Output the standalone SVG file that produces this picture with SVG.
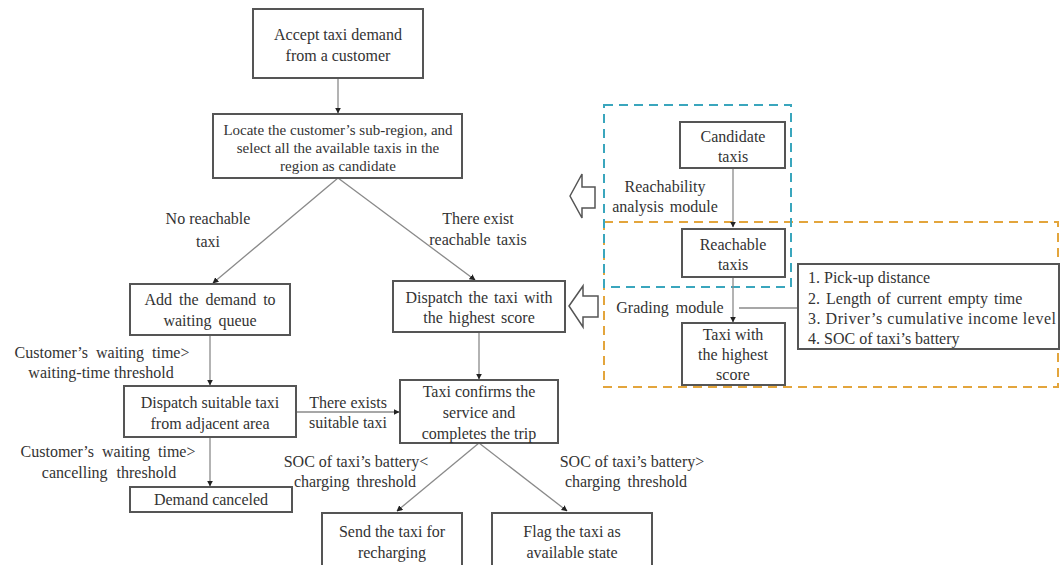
<svg xmlns="http://www.w3.org/2000/svg" width="1061" height="565" viewBox="0 0 1061 565">
<defs>
<style>
.box{fill:#fff;stroke:#555;stroke-width:2}
.t{font-family:'Liberation Serif','DejaVu Serif',serif;font-size:16px;fill:#333;text-anchor:middle}
.ts{font-size:15px}
.l{text-anchor:start}
.c{fill:none;stroke:#8a8a8a;stroke-width:1.3}
.blk{fill:#fff;stroke:#555;stroke-width:1.5}
</style>
<marker id="ah" viewBox="0 0 10 10" refX="9" refY="5" markerWidth="6" markerHeight="6" markerUnits="userSpaceOnUse" orient="auto">
<path d="M0,0 L10,5 L0,10 Z" fill="#222"/>
</marker>
</defs>
<rect width="1061" height="565" fill="#fff"/>

<g id="modules">
<rect x="604" y="222" width="454" height="165" fill="none" stroke="#e3a53c" stroke-width="2" stroke-dasharray="9,6"/>
<rect x="604" y="105" width="187" height="182" fill="none" stroke="#3aa6bd" stroke-width="2" stroke-dasharray="9,6"/>
</g>

<g id="connectors">
<line class="c" x1="338" y1="78" x2="338" y2="113" marker-end="url(#ah)"/>
<line class="c" x1="338" y1="178" x2="213" y2="283" marker-end="url(#ah)"/>
<line class="c" x1="338" y1="178" x2="475" y2="280" marker-end="url(#ah)"/>
<line class="c" x1="210" y1="335" x2="210" y2="385" marker-end="url(#ah)"/>
<line class="c" x1="210" y1="437" x2="210" y2="486" marker-end="url(#ah)"/>
<line class="c" x1="296" y1="412" x2="399" y2="412" marker-end="url(#ah)"/>
<line class="c" x1="479" y1="332" x2="479" y2="379" marker-end="url(#ah)"/>
<line class="c" x1="479" y1="443" x2="397" y2="511" marker-end="url(#ah)"/>
<line class="c" x1="479" y1="443" x2="567" y2="511" marker-end="url(#ah)"/>
<line class="c" x1="733" y1="168" x2="733" y2="227" marker-end="url(#ah)"/>
<line class="c" x1="733" y1="277" x2="733" y2="322" marker-end="url(#ah)"/>
<line class="c" x1="739" y1="308" x2="798" y2="308"/>
<path class="blk" d="M570,196 L582,174 L582,187 L595,187 L595,208 L582,208 L582,218 Z"/>
<path class="blk" d="M569,306 L583,286 L583,296 L598,296 L598,317 L583,317 L583,327 Z"/>
</g>

<g id="n-accept">
<rect class="box" x="253" y="9" width="170" height="69"/>
<text class="t" x="338" y="40">Accept taxi demand</text>
<text class="t" x="338" y="61">from a customer</text>
</g>

<g id="n-locate">
<rect class="box" x="213" y="114" width="249" height="64"/>
<text class="t ts" x="338" y="135">Locate the customer’s sub-region, and</text>
<text class="t ts" x="338" y="153">select all the available taxis in the</text>
<text class="t ts" x="338" y="171">region as candidate</text>
</g>

<g id="n-queue">
<rect class="box" x="130" y="284" width="160" height="51"/>
<text class="t" x="210" y="305" word-spacing="3">Add the demand to</text>
<text class="t" x="210" y="326" word-spacing="3">waiting queue</text>
</g>

<g id="n-dispatch-high">
<rect class="box" x="393" y="281" width="172" height="51"/>
<text class="t" x="479" y="303" word-spacing="2">Dispatch the taxi with</text>
<text class="t" x="479" y="323" word-spacing="2">the highest score</text>
</g>

<g id="n-dispatch-adj">
<rect class="box" x="124" y="386" width="172" height="51"/>
<text class="t" x="210" y="408">Dispatch suitable taxi</text>
<text class="t" x="210" y="429">from adjacent area</text>
</g>

<g id="n-canceled">
<rect class="box" x="130" y="487" width="162" height="25"/>
<text class="t" x="211" y="505">Demand canceled</text>
</g>

<g id="n-confirm">
<rect class="box" x="400" y="380" width="158" height="63"/>
<text class="t" x="479" y="397">Taxi confirms the</text>
<text class="t" x="479" y="418">service and</text>
<text class="t" x="479" y="439">completes the trip</text>
</g>

<g id="n-recharge">
<rect class="box" x="322" y="513" width="140" height="60"/>
<text class="t" x="392" y="537">Send the taxi for</text>
<text class="t" x="392" y="558">recharging</text>
</g>

<g id="n-available">
<rect class="box" x="492" y="513" width="160" height="60"/>
<text class="t" x="572" y="537">Flag the taxi as</text>
<text class="t" x="572" y="558">available state</text>
</g>

<g id="n-candidate">
<rect class="box" x="680" y="122" width="105" height="46"/>
<text class="t" x="733" y="142">Candidate</text>
<text class="t" x="733" y="162">taxis</text>
</g>

<g id="n-reachable">
<rect class="box" x="682" y="229" width="103" height="48"/>
<text class="t" x="733" y="250">Reachable</text>
<text class="t" x="733" y="270">taxis</text>
</g>

<g id="n-highest">
<rect class="box" x="682" y="323" width="103" height="62"/>
<text class="t" x="733" y="340">Taxi with</text>
<text class="t" x="733" y="360">the highest</text>
<text class="t" x="733" y="380">score</text>
</g>

<g id="n-criteria">
<rect class="box" x="798" y="264" width="261" height="85"/>
<text class="t l" x="808" y="283">1. Pick-up distance</text>
<text class="t l" x="808" y="304" word-spacing="2">2. Length of current empty time</text>
<text class="t l" x="808" y="324" textLength="248" lengthAdjust="spacing">3. Driver’s  cumulative income level</text>
<text class="t l" x="808" y="344">4. SOC of taxi’s battery</text>
</g>

<g id="labels">
<text class="t" x="208" y="224">No reachable</text>
<text class="t" x="208" y="247">taxi</text>
<text class="t" x="478" y="224">There exist</text>
<text class="t" x="478" y="245" word-spacing="2">reachable taxis</text>
<text class="t" x="102" y="358" word-spacing="4">Customer’s waiting time&gt;</text>
<text class="t" x="101" y="378">waiting-time threshold</text>
<text class="t" x="108" y="457" word-spacing="4">Customer’s waiting time&gt;</text>
<text class="t" x="109" y="478" word-spacing="5">cancelling threshold</text>
<text class="t" x="348" y="408">There exists</text>
<text class="t" x="348" y="428">suitable taxi</text>
<text class="t" x="356" y="467">SOC of taxi’s battery&lt;</text>
<text class="t" x="355" y="487" word-spacing="3">charging threshold</text>
<text class="t" x="632" y="467">SOC of taxi’s battery&gt;</text>
<text class="t" x="626" y="487" word-spacing="3">charging threshold</text>
<text class="t" x="665" y="192">Reachability</text>
<text class="t" x="665" y="212" word-spacing="2">analysis module</text>
<text class="t" x="670" y="313" word-spacing="3">Grading module</text>
</g>
</svg>
